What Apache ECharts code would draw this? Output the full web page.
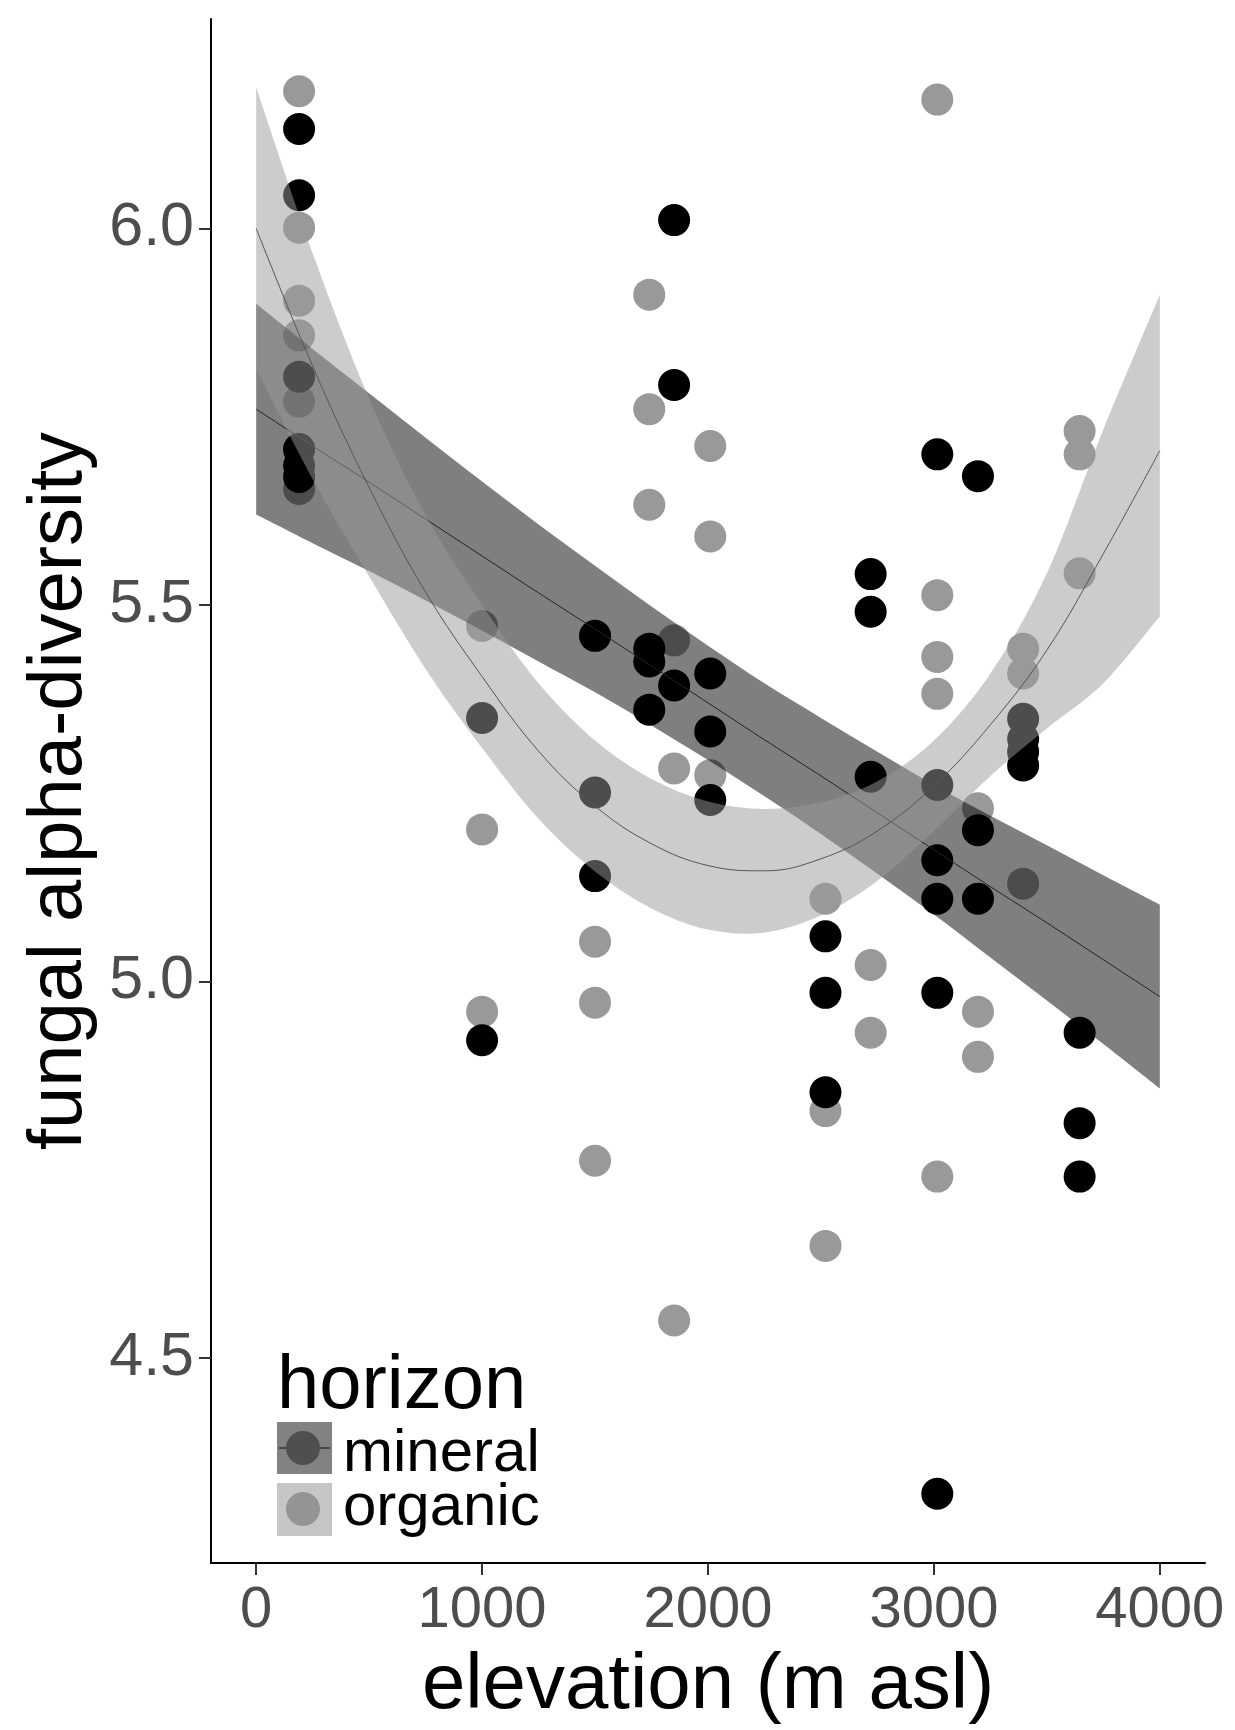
<!DOCTYPE html>
<html>
<head>
<meta charset="utf-8">
<title>fungal alpha-diversity vs elevation</title>
<script src="https://cdn.jsdelivr.net/npm/echarts@6/dist/echarts.min.js"></script>
<style>
  html, body { margin: 0; padding: 0; background: #fff; }
  #main { width: 1235px; height: 1730px; }
</style>
</head>
<body>
<div id="main"></div>
<script>
// axis ticks
const elevTicks = [0, 1000, 2000, 3000, 4000];
const diversityTicks = [4.5, 5.0, 5.5, 6.0];

// observations, mineral horizon
const mineralElev = [190, 190, 190, 190, 190, 190, 1000, 1000, 1500, 1500, 1500,
  1740, 1740, 1740, 1850, 1850, 1850, 2010, 2010, 2010, 2520, 2520, 2520,
  2720, 2720, 2720, 3015, 3015, 3015, 3015, 3015, 3015, 3195, 3195, 3195,
  3395, 3395, 3395, 3395, 3645, 3645, 3645];
const mineralDiv = [6.132, 6.044, 5.803, 5.707, 5.685, 5.670, 5.350, 4.922, 5.459, 5.251, 5.140,
  5.442, 5.425, 5.361, 6.011, 5.792, 5.393, 5.409, 5.332, 5.241, 5.060, 4.985, 4.853,
  5.541, 5.491, 5.272, 5.700, 5.261, 5.161, 5.110, 4.985, 4.320, 5.671, 5.201, 5.110,
  5.349, 5.322, 5.305, 5.287, 4.932, 4.812, 4.741];

// observations, organic horizon
const organicElev = [190, 190, 190, 190, 190, 190, 190, 1000, 1000, 1000, 1500, 1500, 1500,
  1740, 1740, 1740, 1850, 1850, 1850, 2010, 2010, 2010, 2520, 2520, 2520,
  2720, 2720, 3015, 3015, 3015, 3015, 3015, 3195, 3195, 3195,
  3395, 3395, 3395, 3645, 3645, 3645];
const organicDiv = [6.182, 6.001, 5.904, 5.858, 5.770, 5.705, 5.654, 5.472, 5.202, 4.960, 5.053, 4.972, 4.762,
  5.912, 5.760, 5.633, 5.453, 5.283, 4.550, 5.711, 5.591, 5.274, 5.110, 4.828, 4.649,
  5.022, 4.932, 6.171, 5.513, 5.431, 5.382, 4.741, 5.230, 4.960, 4.900,
  5.442, 5.409, 5.130, 5.731, 5.700, 5.542];

// fitted curves and confidence bands
const fitElev = [0, 250, 500, 750, 1000, 1250, 1500, 1750, 2000, 2250, 2500, 2750, 3000, 3250, 3500, 3750, 4000];
const mineralFit = [5.760, 5.711, 5.663, 5.614, 5.565, 5.516, 5.468, 5.419, 5.370, 5.321, 5.273, 5.224, 5.175, 5.126, 5.078, 5.029, 4.980];
const mineralLo = [5.620, 5.582, 5.545, 5.506, 5.466, 5.425, 5.384, 5.340, 5.294, 5.246, 5.196, 5.143, 5.089, 5.032, 4.975, 4.917, 4.858];
const mineralHi = [5.900, 5.840, 5.781, 5.722, 5.664, 5.607, 5.552, 5.498, 5.446, 5.396, 5.350, 5.305, 5.261, 5.220, 5.181, 5.141, 5.102];
const organicFit = [6.000, 5.817, 5.656, 5.517, 5.405, 5.306, 5.233, 5.183, 5.154, 5.147, 5.163, 5.200, 5.260, 5.341, 5.440, 5.568, 5.705];
const organicLo = [5.813, 5.667, 5.538, 5.415, 5.310, 5.216, 5.146, 5.097, 5.069, 5.065, 5.088, 5.134, 5.200, 5.273, 5.336, 5.396, 5.485];
const organicHi = [6.187, 5.967, 5.774, 5.619, 5.500, 5.396, 5.320, 5.269, 5.239, 5.229, 5.238, 5.266, 5.320, 5.409, 5.542, 5.733, 5.912];

const FONT = '"Liberation Sans", Arial, Helvetica, sans-serif';

const pairs = (xs, ys) => xs.map((x, i) => [x, ys[i]]);

// cubic segments through pixel points (catmull-rom style), for smooth ribbon edges
function curveThrough(pts) {
  let d = '';
  for (let i = 0; i < pts.length - 1; i++) {
    const p0 = pts[Math.max(i - 1, 0)], p1 = pts[i], p2 = pts[i + 1], p3 = pts[Math.min(i + 2, pts.length - 1)];
    const c1x = p1[0] + (p2[0] - p0[0]) / 6, c1y = p1[1] + (p2[1] - p0[1]) / 6;
    const c2x = p2[0] - (p3[0] - p1[0]) / 6, c2y = p2[1] - (p3[1] - p1[1]) / 6;
    d += ' C ' + c1x + ' ' + c1y + ' ' + c2x + ' ' + c2y + ' ' + p2[0] + ' ' + p2[1];
  }
  return d;
}

// ribbon drawn as one closed path through the axis scales
function band(name, lo, hi, fill, z) {
  return {
    type: 'custom',
    name: name,
    z: z,
    silent: true,
    clip: true,
    data: fitElev.map((x, i) => [x, lo[i], hi[i]]),
    encode: { x: 0, y: [1, 2] },
    renderItem: function (params, api) {
      if (params.dataIndex !== 0) return null;
      const upper = fitElev.map((x, i) => api.coord([x, hi[i]]));
      const lower = fitElev.map((x, i) => api.coord([x, lo[i]])).reverse();
      const d = 'M ' + upper[0][0] + ' ' + upper[0][1] + curveThrough(upper) +
        ' L ' + lower[0][0] + ' ' + lower[0][1] + curveThrough(lower) + ' Z';
      return {
        type: 'path',
        shape: { pathData: d },
        style: { fill: fill }
      };
    }
  };
}

const chart = echarts.init(document.getElementById('main'));
chart.setOption({
  animation: false,
  backgroundColor: '#ffffff',
  grid: { left: 211, right: 30, top: 19, bottom: 164 },
  xAxis: {
    type: 'value',
    min: -200,
    max: 4200,
    name: 'elevation (m asl)',
    nameLocation: 'middle',
    nameGap: 84,
    nameTextStyle: { color: '#000', fontSize: 78, fontFamily: FONT },
    axisLine: { onZero: false, lineStyle: { color: '#000', width: 2 } },
    axisTick: { customValues: elevTicks, length: 12, lineStyle: { color: '#333', width: 2 } },
    axisLabel: {
      customValues: elevTicks, color: '#4d4d4d', fontSize: 58, fontFamily: FONT, margin: 19,
      formatter: v => String(v)
    },
    splitLine: { show: false }
  },
  yAxis: {
    type: 'value',
    min: 4.228,
    max: 6.278,
    name: 'fungal alpha-diversity',
    nameLocation: 'middle',
    nameRotate: 90,
    nameGap: 112,
    nameTextStyle: { color: '#000', fontSize: 76, fontFamily: FONT },
    axisLine: { onZero: false, lineStyle: { color: '#000', width: 2 } },
    axisTick: { customValues: diversityTicks, length: 12, lineStyle: { color: '#333', width: 2 } },
    axisLabel: {
      customValues: diversityTicks,
      color: '#4d4d4d', fontSize: 61, fontFamily: FONT, margin: 17,
      formatter: v => v.toFixed(1)
    },
    splitLine: { show: false }
  },
  series: [
    {
      type: 'scatter', name: 'organic', z: 1, silent: true,
      symbolSize: 32,
      itemStyle: { color: '#999999', opacity: 1 },
      data: pairs(organicElev, organicDiv)
    },
    {
      type: 'scatter', name: 'mineral', z: 2, silent: true,
      symbolSize: 32,
      itemStyle: { color: '#000000', opacity: 1 },
      data: pairs(mineralElev, mineralDiv)
    },
    band('mineral band', mineralLo, mineralHi, 'rgba(0,0,0,0.5)', 3),
    {
      type: 'line', name: 'mineral fit', z: 4, silent: true,
      showSymbol: false, smooth: 0.2,
      lineStyle: { color: '#222', width: 1 },
      data: pairs(fitElev, mineralFit)
    },
    band('organic band', organicLo, organicHi, 'rgba(153,153,153,0.5)', 5),
    {
      type: 'line', name: 'organic fit', z: 6, silent: true,
      showSymbol: false, smooth: 0.4,
      lineStyle: { color: '#555', width: 1 },
      data: pairs(fitElev, organicFit)
    }
  ],
  graphic: [
    {
      type: 'text', x: 277, y: 1387, z: 10,
      style: { text: 'horizon', font: '76px ' + FONT, fill: '#000',
        textAlign: 'left', textVerticalAlign: 'middle', align: 'left', verticalAlign: 'middle' }
    },
    { type: 'rect', z: 10, shape: { x: 277, y: 1422, width: 55, height: 52 }, style: { fill: '#828282' } },
    { type: 'line', z: 11, shape: { x1: 279, y1: 1448, x2: 330, y2: 1448 }, style: { stroke: '#333', lineWidth: 1.5 } },
    { type: 'circle', z: 12, shape: { cx: 303, cy: 1448, r: 17 }, style: { fill: '#4f4f4f' } },
    { type: 'rect', z: 10, shape: { x: 277, y: 1483, width: 55, height: 53 }, style: { fill: '#c6c6c6' } },
    { type: 'circle', z: 12, shape: { cx: 303, cy: 1509, r: 17 }, style: { fill: '#949494' } },
    {
      type: 'text', x: 343, y: 1454, z: 10,
      style: { text: 'mineral', font: '60px ' + FONT, fill: '#000',
        textAlign: 'left', textVerticalAlign: 'middle', align: 'left', verticalAlign: 'middle' }
    },
    {
      type: 'text', x: 343, y: 1508, z: 10,
      style: { text: 'organic', font: '60px ' + FONT, fill: '#000',
        textAlign: 'left', textVerticalAlign: 'middle', align: 'left', verticalAlign: 'middle' }
    }
  ]
});
</script>
</body>
</html>
